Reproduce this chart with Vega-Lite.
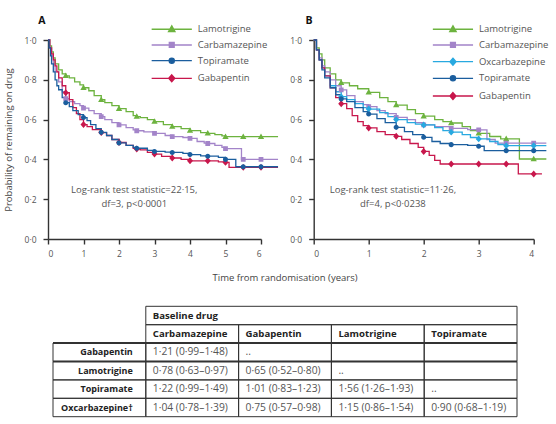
{
  "$schema": "https://vega.github.io/schema/vega-lite/v6.json",
  "padding": {"left": 3, "top": 16, "right": 5, "bottom": 5},
  "bounds": "flush",
  "spacing": 266.3,
  "datasets": {
    "A": [
      {"drug":"Lamotrigine","t":0,"s":1.0},{"drug":"Lamotrigine","t":0.05,"s":0.97},{"drug":"Lamotrigine","t":0.1,"s":0.94},{"drug":"Lamotrigine","t":0.15,"s":0.91},{"drug":"Lamotrigine","t":0.2,"s":0.88},{"drug":"Lamotrigine","t":0.3,"s":0.85},{"drug":"Lamotrigine","t":0.4,"s":0.83},{"drug":"Lamotrigine","t":0.5,"s":0.82},{"drug":"Lamotrigine","t":0.6,"s":0.81},{"drug":"Lamotrigine","t":0.75,"s":0.79},{"drug":"Lamotrigine","t":0.9,"s":0.775},{"drug":"Lamotrigine","t":1.0,"s":0.76},{"drug":"Lamotrigine","t":1.15,"s":0.745},{"drug":"Lamotrigine","t":1.3,"s":0.72},{"drug":"Lamotrigine","t":1.5,"s":0.7},{"drug":"Lamotrigine","t":1.6,"s":0.685},{"drug":"Lamotrigine","t":1.8,"s":0.67},{"drug":"Lamotrigine","t":2.0,"s":0.655},{"drug":"Lamotrigine","t":2.2,"s":0.64},{"drug":"Lamotrigine","t":2.4,"s":0.62},{"drug":"Lamotrigine","t":2.5,"s":0.615},{"drug":"Lamotrigine","t":2.6,"s":0.61},{"drug":"Lamotrigine","t":2.8,"s":0.6},{"drug":"Lamotrigine","t":3.0,"s":0.59},{"drug":"Lamotrigine","t":3.25,"s":0.575},{"drug":"Lamotrigine","t":3.5,"s":0.565},{"drug":"Lamotrigine","t":3.75,"s":0.555},{"drug":"Lamotrigine","t":4.0,"s":0.545},{"drug":"Lamotrigine","t":4.3,"s":0.535},{"drug":"Lamotrigine","t":4.5,"s":0.531},{"drug":"Lamotrigine","t":4.7,"s":0.525},{"drug":"Lamotrigine","t":4.9,"s":0.518},{"drug":"Lamotrigine","t":5.0,"s":0.514},{"drug":"Lamotrigine","t":5.5,"s":0.514},{"drug":"Lamotrigine","t":6.0,"s":0.514},{"drug":"Lamotrigine","t":6.48,"s":0.514},
      {"drug":"Carbamazepine","t":0,"s":1.0},{"drug":"Carbamazepine","t":0.05,"s":0.96},{"drug":"Carbamazepine","t":0.1,"s":0.92},{"drug":"Carbamazepine","t":0.15,"s":0.88},{"drug":"Carbamazepine","t":0.2,"s":0.84},{"drug":"Carbamazepine","t":0.3,"s":0.79},{"drug":"Carbamazepine","t":0.4,"s":0.74},{"drug":"Carbamazepine","t":0.5,"s":0.705},{"drug":"Carbamazepine","t":0.6,"s":0.69},{"drug":"Carbamazepine","t":0.75,"s":0.68},{"drug":"Carbamazepine","t":0.9,"s":0.67},{"drug":"Carbamazepine","t":1.0,"s":0.658},{"drug":"Carbamazepine","t":1.15,"s":0.645},{"drug":"Carbamazepine","t":1.3,"s":0.63},{"drug":"Carbamazepine","t":1.5,"s":0.615},{"drug":"Carbamazepine","t":1.6,"s":0.6},{"drug":"Carbamazepine","t":1.8,"s":0.585},{"drug":"Carbamazepine","t":2.0,"s":0.573},{"drug":"Carbamazepine","t":2.2,"s":0.56},{"drug":"Carbamazepine","t":2.4,"s":0.548},{"drug":"Carbamazepine","t":2.5,"s":0.544},{"drug":"Carbamazepine","t":2.7,"s":0.538},{"drug":"Carbamazepine","t":3.0,"s":0.531},{"drug":"Carbamazepine","t":3.3,"s":0.52},{"drug":"Carbamazepine","t":3.5,"s":0.514},{"drug":"Carbamazepine","t":3.8,"s":0.51},{"drug":"Carbamazepine","t":4.0,"s":0.506},{"drug":"Carbamazepine","t":4.2,"s":0.49},{"drug":"Carbamazepine","t":4.4,"s":0.482},{"drug":"Carbamazepine","t":4.5,"s":0.48},{"drug":"Carbamazepine","t":4.7,"s":0.47},{"drug":"Carbamazepine","t":4.9,"s":0.46},{"drug":"Carbamazepine","t":5.0,"s":0.454},{"drug":"Carbamazepine","t":5.45,"s":0.4},{"drug":"Carbamazepine","t":5.5,"s":0.4},{"drug":"Carbamazepine","t":6.0,"s":0.4},{"drug":"Carbamazepine","t":6.48,"s":0.4},
      {"drug":"Gabapentin","t":0,"s":1.0},{"drug":"Gabapentin","t":0.05,"s":0.96},{"drug":"Gabapentin","t":0.1,"s":0.93},{"drug":"Gabapentin","t":0.15,"s":0.9},{"drug":"Gabapentin","t":0.2,"s":0.87},{"drug":"Gabapentin","t":0.25,"s":0.84},{"drug":"Gabapentin","t":0.3,"s":0.81},{"drug":"Gabapentin","t":0.4,"s":0.77},{"drug":"Gabapentin","t":0.5,"s":0.735},{"drug":"Gabapentin","t":0.6,"s":0.7},{"drug":"Gabapentin","t":0.7,"s":0.66},{"drug":"Gabapentin","t":0.8,"s":0.63},{"drug":"Gabapentin","t":0.9,"s":0.6},{"drug":"Gabapentin","t":1.0,"s":0.575},{"drug":"Gabapentin","t":1.1,"s":0.565},{"drug":"Gabapentin","t":1.25,"s":0.55},{"drug":"Gabapentin","t":1.5,"s":0.535},{"drug":"Gabapentin","t":1.65,"s":0.52},{"drug":"Gabapentin","t":1.8,"s":0.5},{"drug":"Gabapentin","t":2.0,"s":0.485},{"drug":"Gabapentin","t":2.2,"s":0.47},{"drug":"Gabapentin","t":2.4,"s":0.455},{"drug":"Gabapentin","t":2.5,"s":0.452},{"drug":"Gabapentin","t":2.6,"s":0.448},{"drug":"Gabapentin","t":2.8,"s":0.435},{"drug":"Gabapentin","t":3.0,"s":0.427},{"drug":"Gabapentin","t":3.2,"s":0.415},{"drug":"Gabapentin","t":3.5,"s":0.407},{"drug":"Gabapentin","t":3.75,"s":0.4},{"drug":"Gabapentin","t":4.0,"s":0.393},{"drug":"Gabapentin","t":4.5,"s":0.393},{"drug":"Gabapentin","t":4.8,"s":0.388},{"drug":"Gabapentin","t":5.0,"s":0.385},{"drug":"Gabapentin","t":5.1,"s":0.36},{"drug":"Gabapentin","t":5.5,"s":0.36},{"drug":"Gabapentin","t":6.0,"s":0.36},{"drug":"Gabapentin","t":6.48,"s":0.36},
      {"drug":"Topiramate","t":0,"s":1.0},{"drug":"Topiramate","t":0.03,"s":0.96},{"drug":"Topiramate","t":0.07,"s":0.92},{"drug":"Topiramate","t":0.1,"s":0.88},{"drug":"Topiramate","t":0.15,"s":0.84},{"drug":"Topiramate","t":0.2,"s":0.8},{"drug":"Topiramate","t":0.25,"s":0.77},{"drug":"Topiramate","t":0.3,"s":0.75},{"drug":"Topiramate","t":0.4,"s":0.71},{"drug":"Topiramate","t":0.5,"s":0.685},{"drug":"Topiramate","t":0.6,"s":0.665},{"drug":"Topiramate","t":0.7,"s":0.645},{"drug":"Topiramate","t":0.85,"s":0.625},{"drug":"Topiramate","t":1.0,"s":0.61},{"drug":"Topiramate","t":1.1,"s":0.595},{"drug":"Topiramate","t":1.2,"s":0.575},{"drug":"Topiramate","t":1.35,"s":0.555},{"drug":"Topiramate","t":1.5,"s":0.536},{"drug":"Topiramate","t":1.65,"s":0.52},{"drug":"Topiramate","t":1.8,"s":0.5},{"drug":"Topiramate","t":2.0,"s":0.483},{"drug":"Topiramate","t":2.2,"s":0.47},{"drug":"Topiramate","t":2.4,"s":0.46},{"drug":"Topiramate","t":2.5,"s":0.456},{"drug":"Topiramate","t":2.8,"s":0.445},{"drug":"Topiramate","t":3.0,"s":0.44},{"drug":"Topiramate","t":3.3,"s":0.437},{"drug":"Topiramate","t":3.5,"s":0.435},{"drug":"Topiramate","t":3.8,"s":0.43},{"drug":"Topiramate","t":4.0,"s":0.424},{"drug":"Topiramate","t":4.3,"s":0.418},{"drug":"Topiramate","t":4.5,"s":0.416},{"drug":"Topiramate","t":4.8,"s":0.41},{"drug":"Topiramate","t":5.0,"s":0.4},{"drug":"Topiramate","t":5.29,"s":0.363},{"drug":"Topiramate","t":5.5,"s":0.363},{"drug":"Topiramate","t":6.0,"s":0.363},{"drug":"Topiramate","t":6.48,"s":0.363}
    ],
    "B": [
      {"drug":"Lamotrigine","t":0,"s":1.0},{"drug":"Lamotrigine","t":0.05,"s":0.96},{"drug":"Lamotrigine","t":0.1,"s":0.93},{"drug":"Lamotrigine","t":0.15,"s":0.9},{"drug":"Lamotrigine","t":0.2,"s":0.86},{"drug":"Lamotrigine","t":0.3,"s":0.83},{"drug":"Lamotrigine","t":0.4,"s":0.8},{"drug":"Lamotrigine","t":0.5,"s":0.785},{"drug":"Lamotrigine","t":0.65,"s":0.77},{"drug":"Lamotrigine","t":0.8,"s":0.755},{"drug":"Lamotrigine","t":1.0,"s":0.737},{"drug":"Lamotrigine","t":1.2,"s":0.71},{"drug":"Lamotrigine","t":1.35,"s":0.69},{"drug":"Lamotrigine","t":1.5,"s":0.673},{"drug":"Lamotrigine","t":1.7,"s":0.65},{"drug":"Lamotrigine","t":1.85,"s":0.63},{"drug":"Lamotrigine","t":2.0,"s":0.617},{"drug":"Lamotrigine","t":2.2,"s":0.6},{"drug":"Lamotrigine","t":2.35,"s":0.59},{"drug":"Lamotrigine","t":2.5,"s":0.583},{"drug":"Lamotrigine","t":2.7,"s":0.565},{"drug":"Lamotrigine","t":2.85,"s":0.545},{"drug":"Lamotrigine","t":3.0,"s":0.531},{"drug":"Lamotrigine","t":3.2,"s":0.515},{"drug":"Lamotrigine","t":3.4,"s":0.503},{"drug":"Lamotrigine","t":3.5,"s":0.503},{"drug":"Lamotrigine","t":3.74,"s":0.402},{"drug":"Lamotrigine","t":4.0,"s":0.402},{"drug":"Lamotrigine","t":4.23,"s":0.402},
      {"drug":"Carbamazepine","t":0,"s":1.0},{"drug":"Carbamazepine","t":0.05,"s":0.95},{"drug":"Carbamazepine","t":0.1,"s":0.91},{"drug":"Carbamazepine","t":0.15,"s":0.87},{"drug":"Carbamazepine","t":0.2,"s":0.84},{"drug":"Carbamazepine","t":0.3,"s":0.8},{"drug":"Carbamazepine","t":0.4,"s":0.77},{"drug":"Carbamazepine","t":0.5,"s":0.749},{"drug":"Carbamazepine","t":0.6,"s":0.72},{"drug":"Carbamazepine","t":0.75,"s":0.69},{"drug":"Carbamazepine","t":0.9,"s":0.675},{"drug":"Carbamazepine","t":1.0,"s":0.665},{"drug":"Carbamazepine","t":1.15,"s":0.645},{"drug":"Carbamazepine","t":1.3,"s":0.63},{"drug":"Carbamazepine","t":1.5,"s":0.611},{"drug":"Carbamazepine","t":1.7,"s":0.6},{"drug":"Carbamazepine","t":1.85,"s":0.585},{"drug":"Carbamazepine","t":2.0,"s":0.573},{"drug":"Carbamazepine","t":2.2,"s":0.565},{"drug":"Carbamazepine","t":2.5,"s":0.556},{"drug":"Carbamazepine","t":2.8,"s":0.55},{"drug":"Carbamazepine","t":3.0,"s":0.548},{"drug":"Carbamazepine","t":3.15,"s":0.5},{"drug":"Carbamazepine","t":3.3,"s":0.482},{"drug":"Carbamazepine","t":3.5,"s":0.482},{"drug":"Carbamazepine","t":4.0,"s":0.482},{"drug":"Carbamazepine","t":4.23,"s":0.482},
      {"drug":"Oxcarbazepine","t":0,"s":1.0},{"drug":"Oxcarbazepine","t":0.05,"s":0.95},{"drug":"Oxcarbazepine","t":0.1,"s":0.9},{"drug":"Oxcarbazepine","t":0.15,"s":0.86},{"drug":"Oxcarbazepine","t":0.2,"s":0.82},{"drug":"Oxcarbazepine","t":0.3,"s":0.77},{"drug":"Oxcarbazepine","t":0.4,"s":0.74},{"drug":"Oxcarbazepine","t":0.5,"s":0.715},{"drug":"Oxcarbazepine","t":0.6,"s":0.7},{"drug":"Oxcarbazepine","t":0.75,"s":0.68},{"drug":"Oxcarbazepine","t":0.9,"s":0.66},{"drug":"Oxcarbazepine","t":1.0,"s":0.653},{"drug":"Oxcarbazepine","t":1.2,"s":0.635},{"drug":"Oxcarbazepine","t":1.35,"s":0.615},{"drug":"Oxcarbazepine","t":1.5,"s":0.6},{"drug":"Oxcarbazepine","t":1.7,"s":0.585},{"drug":"Oxcarbazepine","t":1.85,"s":0.577},{"drug":"Oxcarbazepine","t":2.0,"s":0.573},{"drug":"Oxcarbazepine","t":2.2,"s":0.56},{"drug":"Oxcarbazepine","t":2.35,"s":0.545},{"drug":"Oxcarbazepine","t":2.5,"s":0.537},{"drug":"Oxcarbazepine","t":2.7,"s":0.525},{"drug":"Oxcarbazepine","t":2.85,"s":0.51},{"drug":"Oxcarbazepine","t":3.0,"s":0.503},{"drug":"Oxcarbazepine","t":3.2,"s":0.49},{"drug":"Oxcarbazepine","t":3.35,"s":0.475},{"drug":"Oxcarbazepine","t":3.5,"s":0.469},{"drug":"Oxcarbazepine","t":4.0,"s":0.469},{"drug":"Oxcarbazepine","t":4.23,"s":0.469},
      {"drug":"Gabapentin","t":0,"s":1.0},{"drug":"Gabapentin","t":0.05,"s":0.95},{"drug":"Gabapentin","t":0.1,"s":0.9},{"drug":"Gabapentin","t":0.15,"s":0.86},{"drug":"Gabapentin","t":0.2,"s":0.82},{"drug":"Gabapentin","t":0.3,"s":0.76},{"drug":"Gabapentin","t":0.4,"s":0.71},{"drug":"Gabapentin","t":0.5,"s":0.68},{"drug":"Gabapentin","t":0.6,"s":0.655},{"drug":"Gabapentin","t":0.7,"s":0.62},{"drug":"Gabapentin","t":0.8,"s":0.59},{"drug":"Gabapentin","t":0.9,"s":0.57},{"drug":"Gabapentin","t":1.0,"s":0.558},{"drug":"Gabapentin","t":1.15,"s":0.54},{"drug":"Gabapentin","t":1.3,"s":0.525},{"drug":"Gabapentin","t":1.5,"s":0.516},{"drug":"Gabapentin","t":1.6,"s":0.5},{"drug":"Gabapentin","t":1.75,"s":0.48},{"drug":"Gabapentin","t":1.9,"s":0.46},{"drug":"Gabapentin","t":2.0,"s":0.44},{"drug":"Gabapentin","t":2.1,"s":0.42},{"drug":"Gabapentin","t":2.2,"s":0.395},{"drug":"Gabapentin","t":2.3,"s":0.377},{"drug":"Gabapentin","t":2.5,"s":0.377},{"drug":"Gabapentin","t":3.0,"s":0.377},{"drug":"Gabapentin","t":3.5,"s":0.377},{"drug":"Gabapentin","t":3.72,"s":0.327},{"drug":"Gabapentin","t":4.0,"s":0.327},{"drug":"Gabapentin","t":4.15,"s":0.327},
      {"drug":"Topiramate","t":0,"s":1.0},{"drug":"Topiramate","t":0.05,"s":0.95},{"drug":"Topiramate","t":0.1,"s":0.9},{"drug":"Topiramate","t":0.15,"s":0.85},{"drug":"Topiramate","t":0.2,"s":0.81},{"drug":"Topiramate","t":0.3,"s":0.76},{"drug":"Topiramate","t":0.4,"s":0.725},{"drug":"Topiramate","t":0.5,"s":0.704},{"drug":"Topiramate","t":0.6,"s":0.69},{"drug":"Topiramate","t":0.75,"s":0.66},{"drug":"Topiramate","t":0.9,"s":0.64},{"drug":"Topiramate","t":1.0,"s":0.628},{"drug":"Topiramate","t":1.15,"s":0.605},{"drug":"Topiramate","t":1.3,"s":0.585},{"drug":"Topiramate","t":1.5,"s":0.561},{"drug":"Topiramate","t":1.65,"s":0.54},{"drug":"Topiramate","t":1.8,"s":0.525},{"drug":"Topiramate","t":2.0,"s":0.511},{"drug":"Topiramate","t":2.15,"s":0.49},{"drug":"Topiramate","t":2.3,"s":0.48},{"drug":"Topiramate","t":2.5,"s":0.474},{"drug":"Topiramate","t":2.8,"s":0.47},{"drug":"Topiramate","t":3.0,"s":0.466},{"drug":"Topiramate","t":3.1,"s":0.444},{"drug":"Topiramate","t":3.5,"s":0.444},{"drug":"Topiramate","t":4.0,"s":0.444},{"drug":"Topiramate","t":4.23,"s":0.444}
    ],
    "tbl": [
      {"r":0,"c":1,"txt":"Baseline drug"},
      {"r":1,"c":1,"txt":"Carbamazepine"},{"r":1,"c":2,"txt":"Gabapentin"},{"r":1,"c":3,"txt":"Lamotrigine"},{"r":1,"c":4,"txt":"Topiramate"},
      {"r":2,"c":0,"txt":"Gabapentin"},{"r":2,"c":1,"txt":"1·21 (0·99–1·48)"},{"r":2,"c":2,"txt":".."},{"r":2,"c":3,"txt":""},{"r":2,"c":4,"txt":""},
      {"r":3,"c":0,"txt":"Lamotrigine"},{"r":3,"c":1,"txt":"0·78 (0·63–0·97)"},{"r":3,"c":2,"txt":"0·65 (0·52–0·80)"},{"r":3,"c":3,"txt":".."},{"r":3,"c":4,"txt":""},
      {"r":4,"c":0,"txt":"Topiramate"},{"r":4,"c":1,"txt":"1·22 (0·99–1·49)"},{"r":4,"c":2,"txt":"1·01 (0·83–1·23)"},{"r":4,"c":3,"txt":"1·56 (1·26–1·93)"},{"r":4,"c":4,"txt":".."},
      {"r":5,"c":0,"txt":"Oxcarbazepine†"},{"r":5,"c":1,"txt":"1·04 (0·78–1·39)"},{"r":5,"c":2,"txt":"0·75 (0·57–0·98)"},{"r":5,"c":3,"txt":"1·15 (0·86–1·54)"},{"r":5,"c":4,"txt":"0·90 (0·68–1·19)"}
    ]
  },
  "vconcat": [
    {
      "hconcat": [
        {
          "width": 213, "height": 199,
          "data": {"name": "A"},
          "layer": [
            {
              "mark": {"type": "line", "interpolate": "step-after", "strokeWidth": 1.3},
              "encoding": {
                "x": {"field": "t", "type": "quantitative", "scale": {"domain": [0, 6], "nice": false},
                  "axis": {"values": [0,1,2,3,4,5,6], "tickCount": 7, "format": "d", "labelOverlap": false, "title": "Time from randomisation (years)", "titleX": 236.5, "titleY": 33, "titleAlign": "center", "titleBaseline": "top"}},
                "y": {"field": "s", "type": "quantitative", "scale": {"domain": [0, 1], "nice": false},
                  "axis": {"values": [0,0.2,0.4,0.6,0.8,1], "tickCount": 6, "labelOverlap": false, "labelExpr": "replace(format(datum.value, '.1f'), '.', '·')", "title": "Probability of remaining on drug", "titleX": -40, "titleBaseline": "middle"}},
                "color": {"field": "drug", "type": "nominal",
                  "scale": {"domain": ["Lamotrigine","Carbamazepine","Topiramate","Gabapentin"], "range": ["#6db33f","#a384c9","#1b5e9e","#c8174c"]},
                  "legend": {"orient": "none", "legendX": 99, "legendY": -15.5, "title": null, "padding": 0, "rowPadding": 4.7,
                    "symbolSize": 36, "symbolStrokeWidth": 1.4, "symbolOffset": 20, "labelOffset": 21.25,
                    "labelFontSize": 9.5, "labelColor": "#555"}}
              }
            },
            {
              "transform": [{"filter": "datum.t > 0 && datum.t % 0.5 == 0"}],
              "mark": {"type": "point", "filled": true, "size": 36, "opacity": 1},
              "encoding": {
                "x": {"field": "t", "type": "quantitative"},
                "y": {"field": "s", "type": "quantitative"},
                "color": {"field": "drug", "type": "nominal"},
                "shape": {"field": "drug", "type": "nominal", "scale": {"domain": ["Lamotrigine","Carbamazepine","Topiramate","Gabapentin"],
                  "range": ["M-6.7,0H6.7M0,-1.1L1.05,0.75H-1.05Z", "M-6.7,0H6.7M-0.8,-0.8H0.8V0.8H-0.8Z", "M-6.7,0H6.7M0.85,0A0.85,0.85,0,1,1,-0.85,0A0.85,0.85,0,1,1,0.85,0Z", "M-6.7,0H6.7M0,-1.15L1,0L0,1.15L-1,0Z"]}}
              }
            },
            {
              "data": {"values": [{}]},
              "mark": {"type": "text", "text": ["Log-rank test statistic=22·15,", "df=3, p<0·0001"], "fontSize": 9.5, "color": "#555", "align": "center", "baseline": "middle", "lineHeight": 14},
              "encoding": {"x": {"datum": 2.43}, "y": {"datum": 0.246}}
            },
            {
              "data": {"values": [{}]},
              "mark": {"type": "text", "text": "A", "fontSize": 10.5, "fontWeight": "bold", "color": "#111", "align": "center", "baseline": "middle"},
              "encoding": {"x": {"datum": -0.17}, "y": {"datum": 1.095}}
            }
          ]
        },
        {
          "width": 220, "height": 199,
          "data": {"name": "B"},
          "layer": [
            {
              "mark": {"type": "line", "interpolate": "step-after", "strokeWidth": 1.3},
              "encoding": {
                "x": {"field": "t", "type": "quantitative", "scale": {"domain": [0, 4], "nice": false},
                  "axis": {"values": [0,1,2,3,4], "tickCount": 5, "format": "d", "labelOverlap": false, "title": null}},
                "y": {"field": "s", "type": "quantitative", "scale": {"domain": [0, 1], "nice": false},
                  "axis": {"values": [0,0.2,0.4,0.6,0.8,1], "tickCount": 6, "labelOverlap": false, "labelExpr": "replace(format(datum.value, '.1f'), '.', '·')", "title": null}},
                "color": {"field": "drug", "type": "nominal",
                  "scale": {"domain": ["Lamotrigine","Carbamazepine","Oxcarbazepine","Topiramate","Gabapentin"], "range": ["#6db33f","#a384c9","#28a9e0","#1b5e9e","#c8174c"]},
                  "legend": {"orient": "none", "legendX": 114.5, "legendY": -15.5, "title": null, "padding": 0, "rowPadding": 4.7,
                    "symbolSize": 36, "symbolStrokeWidth": 1.4, "symbolOffset": 20, "labelOffset": 21.25,
                    "labelFontSize": 9.5, "labelColor": "#555"}}
              }
            },
            {
              "transform": [{"filter": "datum.t > 0 && datum.t % 0.5 == 0"}],
              "mark": {"type": "point", "filled": true, "size": 36, "opacity": 1},
              "encoding": {
                "x": {"field": "t", "type": "quantitative"},
                "y": {"field": "s", "type": "quantitative"},
                "color": {"field": "drug", "type": "nominal"},
                "shape": {"field": "drug", "type": "nominal", "scale": {"domain": ["Lamotrigine","Carbamazepine","Oxcarbazepine","Topiramate","Gabapentin"],
                  "range": ["M-6.7,0H6.7M0,-1.1L1.05,0.75H-1.05Z", "M-6.7,0H6.7M-0.8,-0.8H0.8V0.8H-0.8Z", "M-6.7,0H6.7M0,-1.15L1,0L0,1.15L-1,0Z", "M-6.7,0H6.7M0.85,0A0.85,0.85,0,1,1,-0.85,0A0.85,0.85,0,1,1,0.85,0Z", "M-6.7,0H6.7M0,-1.15L1,0L0,1.15L-1,0Z"]}}
              }
            },
            {
              "data": {"values": [{}]},
              "mark": {"type": "text", "text": ["Log-rank test statistic=11·26,", "df=4, p<0·0238"], "fontSize": 9.5, "color": "#555", "align": "center", "baseline": "middle", "lineHeight": 14},
              "encoding": {"x": {"datum": 1.44}, "y": {"datum": 0.246}}
            },
            {
              "data": {"values": [{}]},
              "mark": {"type": "text", "text": "B", "fontSize": 10.5, "fontWeight": "bold", "color": "#111", "align": "center", "baseline": "middle"},
              "encoding": {"x": {"datum": -0.085}, "y": {"datum": 1.095}}
            }
          ]
        }
      ],
      "spacing": 52.7,
      "bounds": "flush",
      "resolve": {"scale": {"color": "independent", "shape": "independent", "x": "independent", "y": "independent"}, "legend": {"color": "independent", "shape": "independent"}}
    },
    {
      "width": 469, "height": 110.4,
      "data": {"name": "tbl"},
      "layer": [
        {
          "transform": [{"filter": "datum.r > 0"}],
          "mark": {"type": "rect", "fill": "transparent", "stroke": "#333", "strokeWidth": 1},
          "encoding": {
            "x": {"field": "c", "type": "ordinal", "scale": {"type": "band", "domain": [0,1,2,3,4,5], "range": [5, 561.8], "paddingInner": 0, "paddingOuter": 0}, "axis": null},
            "y": {"field": "r", "type": "ordinal", "scale": {"type": "band", "domain": [0,1,2,3,4,5], "paddingInner": 0, "paddingOuter": 0}, "axis": null}
          }
        },
        {
          "data": {"values": [{}]},
          "mark": {"type": "rect", "fill": "transparent", "stroke": "#333", "strokeWidth": 1},
          "encoding": {
            "x": {"datum": 1, "type": "ordinal", "bandPosition": 0},
            "x2": {"datum": 5, "bandPosition": 0},
            "y": {"datum": 0, "type": "ordinal"}
          }
        },
        {
          "transform": [{"filter": "datum.c == 0 && (datum.r == 2 || datum.r == 3)"}],
          "mark": {"type": "rule", "stroke": "#333", "strokeWidth": 2},
          "encoding": {
            "y": {"field": "r", "type": "ordinal", "bandPosition": 0},
            "x": {"datum": 0, "type": "ordinal", "bandPosition": 0},
            "x2": {"datum": 5, "bandPosition": 0}
          }
        },
        {
          "transform": [{"filter": "datum.r >= 2 && datum.c >= 1"}],
          "mark": {"type": "text", "align": "left", "baseline": "middle", "dx": 7, "fontSize": 10.3, "color": "#555"},
          "encoding": {
            "x": {"field": "c", "type": "ordinal", "bandPosition": 0},
            "y": {"field": "r", "type": "ordinal"},
            "text": {"field": "txt"}
          }
        },
        {
          "transform": [{"filter": "datum.r <= 1"}],
          "mark": {"type": "text", "align": "left", "baseline": "middle", "dx": 7, "fontSize": 9.6, "fontWeight": "bold", "color": "#222"},
          "encoding": {
            "x": {"field": "c", "type": "ordinal", "bandPosition": 0},
            "y": {"field": "r", "type": "ordinal"},
            "text": {"field": "txt"}
          }
        },
        {
          "transform": [{"filter": "datum.c == 0"}],
          "mark": {"type": "text", "align": "right", "baseline": "middle", "dx": -13, "fontSize": 9, "fontWeight": "bold", "color": "#222"},
          "encoding": {
            "x": {"field": "c", "type": "ordinal", "bandPosition": 1},
            "y": {"field": "r", "type": "ordinal"},
            "text": {"field": "txt"}
          }
        }
      ]
    }
  ],
  "config": {
    "view": {"stroke": null},
    "font": "Open Sans",
    "axis": {"grid": false, "labelOverlap": false, "domainColor": "#333", "domainWidth": 1.4, "tickColor": "#333", "tickWidth": 1.4, "tickSize": 5,
      "labelColor": "#555", "labelFont": "Open Sans", "labelFontSize": 8.5, "titleFont": "Open Sans", "titleFontSize": 9.5, "titleFontWeight": "normal", "titleColor": "#444"},
    "axisX": {"labelPadding": 5},
    "axisY": {"labelPadding": 7},
    "legend": {"labelFont": "Open Sans"},
    "text": {"font": "Open Sans"}
  }
}
